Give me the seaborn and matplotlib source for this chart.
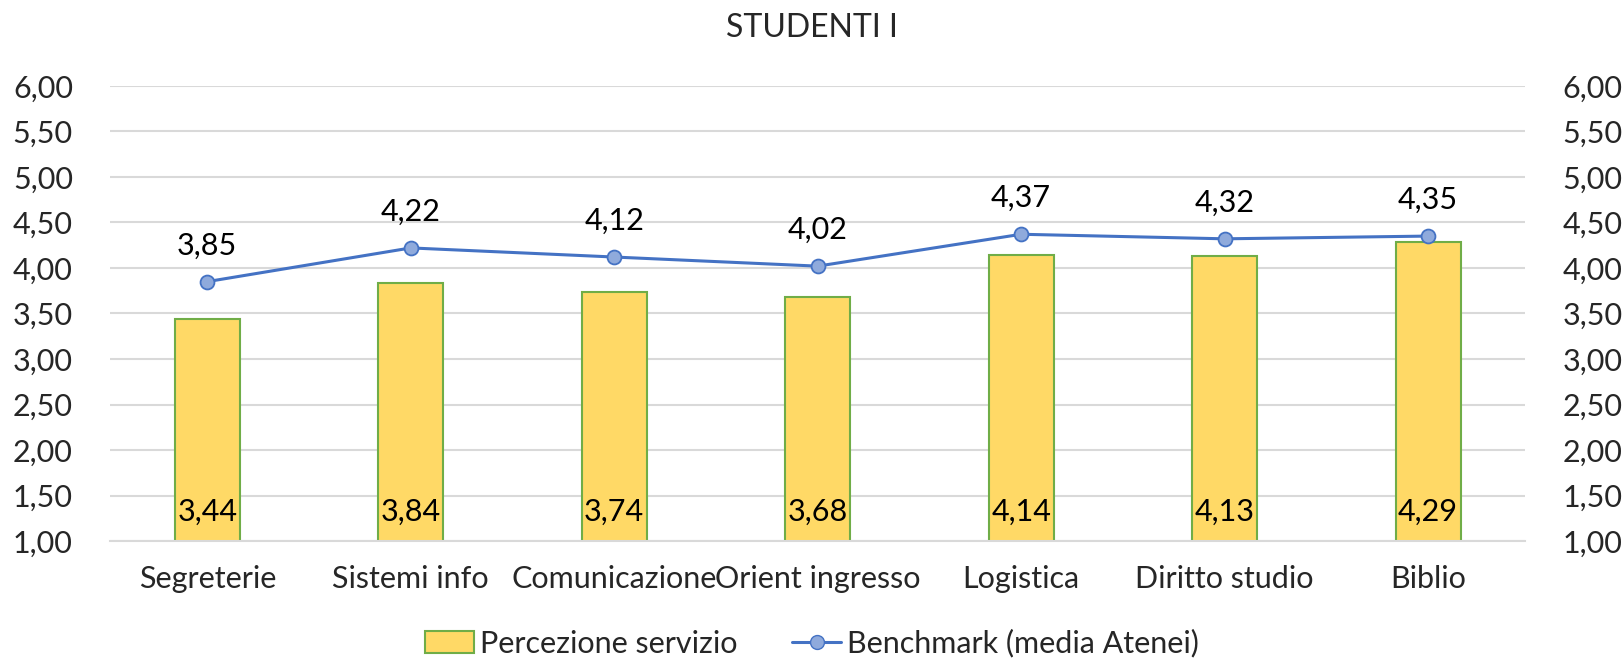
import matplotlib
matplotlib.use("Agg")
import matplotlib.pyplot as plt
import seaborn as sns
import pandas as pd
from matplotlib.patches import Patch
from matplotlib.lines import Line2D
from matplotlib.ticker import FuncFormatter

# dati
categorie = ["Segreterie", "Sistemi info", "Comunicazione", "Orient ingresso",
             "Logistica", "Diritto studio", "Biblio"]
percezione = [3.44, 3.84, 3.74, 3.68, 4.14, 4.13, 4.29]
benchmark = [3.85, 4.22, 4.12, 4.02, 4.37, 4.32, 4.35]
y_ticks = [1.0, 1.5, 2.0, 2.5, 3.0, 3.5, 4.0, 4.5, 5.0, 5.5, 6.0]

df = pd.DataFrame({"servizio": categorie, "percezione": percezione, "benchmark": benchmark})

sns.set_theme(style="white")
plt.rcParams["font.family"] = ["Lato", "DejaVu Sans"]

giallo = "#FFD966"
verde = "#70AD47"
blu = "#4472C4"
blu_chiaro = "#8FAADC"
fs = 22

fig, ax = plt.subplots(figsize=(16.24, 6.6), dpi=100)
fig.subplots_adjust(left=0.068, right=0.939, top=0.870, bottom=0.180)

sns.barplot(data=df, x="servizio", y="percezione", color=giallo, edgecolor=verde,
            linewidth=1.5, width=0.32, saturation=1, ax=ax, zorder=2)
sns.lineplot(data=df, x="servizio", y="benchmark", sort=False, color=blu, linewidth=2.2,
             marker="o", markersize=10, markerfacecolor=blu_chiaro, markeredgecolor=blu,
             markeredgewidth=1.3, ax=ax, zorder=3)

fmt = FuncFormatter(lambda v, p: f"{v:.2f}".replace(".", ","))
ax.set_ylim(1, 6)
ax.set_yticks(y_ticks)
ax.yaxis.set_major_formatter(fmt)
ax.grid(axis="y", color="#D9D9D9", linewidth=1.5, zorder=0)
ax.set_axisbelow(True)
ax.set_xlabel("")
ax.set_ylabel("")
ax.tick_params(axis="y", length=0, pad=27, labelsize=fs)
ax.tick_params(axis="x", length=0, pad=17, labelsize=fs)
for s in ax.spines.values():
    s.set_visible(False)
ax.spines["bottom"].set_visible(True)
ax.spines["bottom"].set_color("#D9D9D9")
ax.spines["bottom"].set_linewidth(1.5)

# asse destro
ax2 = ax.twinx()
ax2.set_ylim(1, 6)
ax2.set_yticks(y_ticks)
ax2.yaxis.set_major_formatter(fmt)
ax2.tick_params(axis="y", length=0, pad=27, labelsize=fs)
for s in ax2.spines.values():
    s.set_visible(False)

# etichette dati
for i, (p, b) in enumerate(zip(percezione, benchmark)):
    ax.annotate(f"{p:.2f}".replace(".", ","), (i, 1), xytext=(0, 21), textcoords="offset points",
                ha="center", va="center", fontsize=fs, color="black", zorder=4)
    ax.annotate(f"{b:.2f}".replace(".", ","), (i, b), xytext=(0, 26), textcoords="offset points",
                ha="center", va="center", fontsize=fs, color="black", zorder=4)

fig.text(0.5, 0.958, "STUDENTI I", ha="center", va="center", fontsize=fs + 1)

handles = [Patch(facecolor=giallo, edgecolor=verde, linewidth=1.5),
           Line2D([0], [0], color=blu, linewidth=2.2, marker="o", markersize=10,
                  markerfacecolor=blu_chiaro, markeredgecolor=blu)]
fig.legend(handles, ["Percezione servizio", "Benchmark (media Atenei)"], loc="center",
           bbox_to_anchor=(0.5, 0.025), ncol=2, frameon=False, fontsize=fs,
           handlelength=1.6, handleheight=0.7, handletextpad=0.2, columnspacing=1.8,
           borderpad=0)

fig.savefig("out.png", dpi=100)
